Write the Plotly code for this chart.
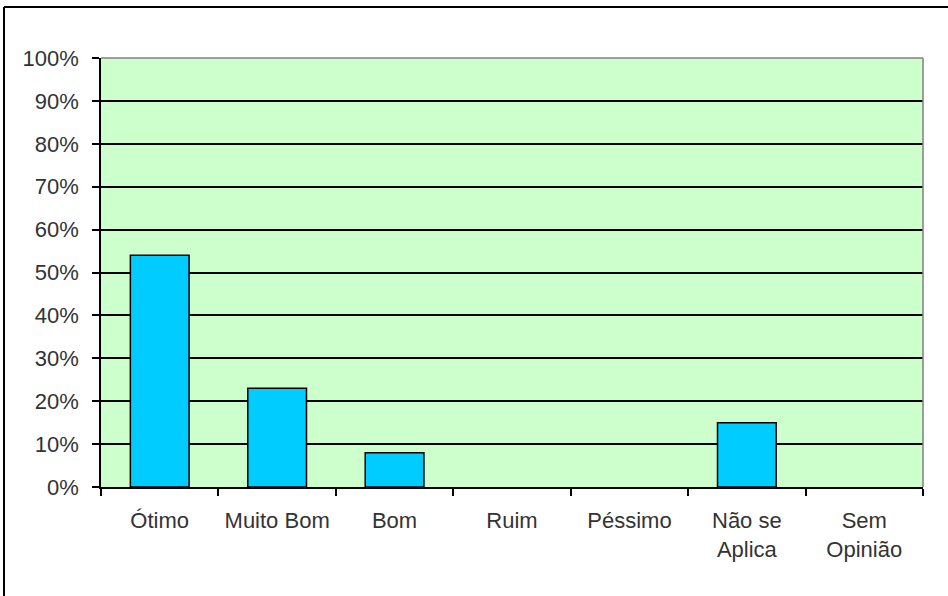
import plotly.graph_objects as go

categories = ["Ótimo", "Muito Bom", "Bom", "Ruim", "Péssimo", "Não se<br>Aplica", "Sem<br>Opinião"]
values = [0.54, 0.23, 0.08, 0.0, 0.0, 0.15, 0.0]
y_ticks = [i / 10 for i in range(11)]

W, H = 948, 596
L, R, T, B = 101, 25, 58, 109

fig = go.Figure(go.Bar(
    x=categories, y=values,
    marker=dict(color="#00CCFF",
                line=dict(color="black", width=[1.5 if v > 0 else 0 for v in values])),
))

font = dict(family="Liberation Sans, Arial, sans-serif", size=22, color="#333")

fig.update_layout(
    width=W, height=H,
    margin=dict(l=L, r=R, t=T, b=B),
    paper_bgcolor="white", plot_bgcolor="#CCFFCC",
    bargap=0.5, showlegend=False, font=font,
)
fig.update_xaxes(
    showline=True, linecolor="black", linewidth=1.5,
    ticks="outside", tickson="boundaries", ticklen=7, tickcolor="black", tickwidth=1.5,
    showgrid=False, ticklabelstandoff=13,
)
fig.update_yaxes(
    range=[0, 1], tickvals=y_ticks, tickformat=".0%",
    showline=True, linecolor="black", linewidth=1.5,
    ticks="outside", ticklen=7, tickcolor="black", tickwidth=1.5,
    showgrid=True, gridcolor="black", gridwidth=1.5, zeroline=False,
    ticklabelstandoff=9,
)
pw, ph = W - L - R, H - T - B
# gray top and right plot border
fig.add_shape(type="line", xref="paper", yref="paper", x0=0, x1=1, y0=1, y1=1,
              line=dict(color="#808080", width=1.5), layer="above")
fig.add_shape(type="line", xref="paper", yref="paper", x0=1, x1=1, y0=0, y1=1,
              line=dict(color="#808080", width=1.5), layer="above")
# outer frame
fx0 = (4 - L) / pw
fy0 = 1 + (T - 7) / ph
fig.add_shape(type="line", xref="paper", yref="paper", x0=fx0, x1=1.2, y0=fy0, y1=fy0,
              line=dict(color="black", width=2))
fig.add_shape(type="line", xref="paper", yref="paper", x0=fx0, x1=fx0, y0=fy0, y1=-0.5,
              line=dict(color="black", width=2))

fig.write_html("out.html", config={"displayModeBar": False},
               post_script="document.body.style.margin='0';document.body.style.overflow='hidden';")
